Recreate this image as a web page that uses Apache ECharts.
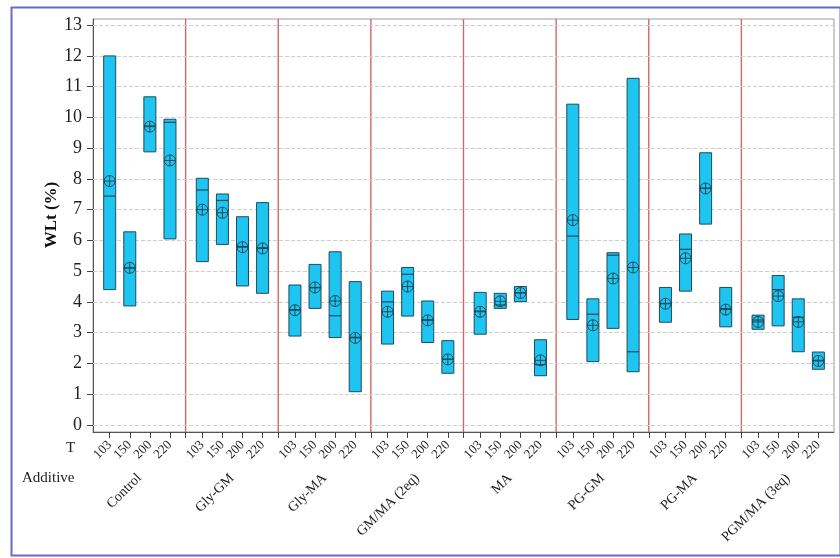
<!DOCTYPE html>
<html>
<head>
<meta charset="utf-8">
<script src="https://cdn.jsdelivr.net/npm/echarts@6/dist/echarts.min.js"></script>
<style>html,body{margin:0;padding:0;background:#fff}#c{width:840px;height:558px}</style>
</head>
<body>
<div id="c"></div>
<script>
// ---- data ----
const additives = ['Control','Gly-GM','Gly-MA','GM/MA (2eq)','MA','PG-GM','PG-MA','PGM/MA (3eq)'];
const temps = ['103','150','200','220'];
const yTicks = [0,1,2,3,4,5,6,7,8,9,10,11,12,13];
// per additive, values for T = 103,150,200,220
const lowVals = [
  [4.40, 3.87, 8.88, 6.05],
  [5.31, 5.87, 4.52, 4.28],
  [2.89, 3.79, 2.84, 1.08],
  [2.63, 3.54, 2.68, 1.68],
  [2.95, 3.79, 4.01, 1.60],
  [3.43, 2.06, 3.14, 1.73],
  [3.34, 4.35, 6.53, 3.19],
  [3.11, 3.22, 2.38, 1.81]
];
const highVals = [
  [12.0, 6.28, 10.67, 9.94],
  [8.02, 7.51, 6.77, 7.23],
  [4.55, 5.22, 5.63, 4.66],
  [4.35, 5.12, 4.03, 2.74],
  [4.31, 4.28, 4.50, 2.77],
  [10.43, 4.10, 5.60, 11.27],
  [4.47, 6.21, 8.85, 4.47],
  [3.57, 4.86, 4.10, 2.37]
];
const medianVals = [
  [7.44, 5.10, 9.72, 9.84],
  [7.64, 7.30, 5.80, 5.76],
  [3.75, 4.46, 3.55, 2.85],
  [4.00, 4.90, 3.42, 2.14],
  [3.70, 3.90, 4.30, 1.96],
  [6.14, 3.60, 5.52, 2.38],
  [3.95, 5.71, 7.70, 3.78],
  [3.41, 4.40, 3.50, 2.10]
];
const meanVals = [
  [7.93, 5.11, 9.70, 8.60],
  [7.00, 6.90, 5.78, 5.74],
  [3.73, 4.47, 4.03, 2.83],
  [3.68, 4.50, 3.40, 2.13],
  [3.68, 4.02, 4.29, 2.10],
  [6.66, 3.24, 4.76, 5.12],
  [3.94, 5.42, 7.69, 3.75],
  [3.35, 4.19, 3.35, 2.08]
];

// ---- layout helpers (positions derived from group / temperature index) ----
const OFF = 0.18, STEP = 0.217;
const YMIN = -0.23, YMAX = 13.2;
const positions = [];
const posLabel = [];
additives.forEach((a, g) => temps.forEach((t, i) => { positions.push(g + OFF + i * STEP); posLabel.push(t); }));
const boundaries = additives.slice(1).map((a, g) => g + 1);
const boxData = [];
additives.forEach((a, g) => temps.forEach((t, i) => {
  boxData.push([g + OFF + i * STEP, lowVals[g][i], highVals[g][i], medianVals[g][i], meanVals[g][i]]);
}));
const hGrid = yTicks.map(v => ({ yAxis: v }));

const serif = '"Liberation Serif", "DejaVu Serif", serif';
const dark = '#1f4a5c';

const chart = echarts.init(document.getElementById('c'), null, { renderer: 'canvas' });
chart.setOption({
  animation: false,
  backgroundColor: '#fff',
  grid: { left: 93, right: 6, top: 19, bottom: 126, show: true, borderColor: '#9a9a9a', borderWidth: 1, backgroundColor: 'transparent' },
  xAxis: [
    {
      type: 'value', min: 0, max: 8, position: 'bottom',
      axisLine: { show: true, onZero: false, lineStyle: { color: '#555', width: 1 } },
      axisTick: { show: true, customValues: positions.concat(boundaries), length: 6, lineStyle: { color: '#444' } },
      axisLabel: {
        show: true, customValues: positions, rotate: 45, margin: 11,
        fontFamily: serif, fontSize: 13, color: '#222',
        formatter: function (v) {
          let best = 0, d = 1e9;
          positions.forEach((p, k) => { if (Math.abs(p - v) < d) { d = Math.abs(p - v); best = k; } });
          return posLabel[best];
        }
      },
      splitLine: { show: false }
    },
    {
      type: 'category', data: additives, position: 'bottom', offset: 40,
      boundaryGap: true,
      axisLine: { show: false }, axisTick: { show: false },
      axisLabel: { interval: 0, rotate: 45, margin: 4, fontFamily: serif, fontSize: 14, color: '#222' },
      splitLine: { show: false }
    }
  ],
  yAxis: {
    type: 'value', min: YMIN, max: YMAX,
    axisLine: { show: true, lineStyle: { color: '#555', width: 1 } },
    axisTick: { show: true, customValues: yTicks, length: 6, lineStyle: { color: '#444' } },
    axisLabel: { customValues: yTicks, margin: 11, fontFamily: serif, fontSize: 18, color: '#222' },
    splitLine: { show: false }
  },
  graphic: [
    { type: 'rect', left: 9, top: 5, shape: { width: 829, height: 548 }, style: { fill: 'none', stroke: '#6b6bc4', lineWidth: 2 }, z: 100 },
    { type: 'text', x: 52, y: 215, rotation: Math.PI / 2, style: { text: 'WLt (%)', font: 'bold 17px ' + serif, fill: '#111', align: 'center', verticalAlign: 'middle' } },
    { type: 'text', left: 66, top: 441, style: { text: 'T', font: '15px ' + serif, fill: '#222' } },
    { type: 'text', left: 22, top: 471, style: { text: 'Additive', font: '15px ' + serif, fill: '#222' } }
  ],
  series: [
    {
      type: 'custom', name: 'grid', z: 1, silent: true, data: [],
      renderItem: function () { return null; },
      markLine: {
        silent: true, symbol: ['none', 'none'], label: { show: false }, animation: false,
        lineStyle: { color: '#cfcfcf', type: [4, 2], width: 1 },
        data: hGrid
      }
    },
    {
      type: 'custom', name: 'separators', z: 2, silent: true,
      data: boundaries.map(b => [b]),
      encode: { x: 0 },
      renderItem: function (params, api) {
        const b = api.value(0);
        const p1 = api.coord([b, YMIN]);
        const p2 = api.coord([b, YMAX]);
        return { type: 'line', shape: { x1: p1[0], y1: p1[1], x2: p1[0], y2: p2[1] }, style: { stroke: '#d06868', lineWidth: 1.4 } };
      }
    },
    {
      type: 'custom', name: 'WLt', z: 5,
      data: boxData,
      encode: { x: 0, y: [1, 2] },
      renderItem: function (params, api) {
        const x = api.value(0);
        const pLo = api.coord([x, api.value(1)]);
        const pHi = api.coord([x, api.value(2)]);
        const pMed = api.coord([x, api.value(3)]);
        const pMean = api.coord([x, api.value(4)]);
        const w = 12, r = 5.5;
        return {
          type: 'group', children: [
            { type: 'rect', shape: { x: pHi[0] - w / 2, y: pHi[1], width: w, height: pLo[1] - pHi[1] }, style: { fill: '#1ec5f0', stroke: dark, lineWidth: 1 } },
            { type: 'line', shape: { x1: pMed[0] - w / 2, y1: pMed[1], x2: pMed[0] + w / 2, y2: pMed[1] }, style: { stroke: dark, lineWidth: 1.2 } },
            { type: 'circle', shape: { cx: pMean[0], cy: pMean[1], r: r }, style: { fill: 'none', stroke: dark, lineWidth: 1 } },
            { type: 'line', shape: { x1: pMean[0] - r, y1: pMean[1], x2: pMean[0] + r, y2: pMean[1] }, style: { stroke: dark, lineWidth: 1 } },
            { type: 'line', shape: { x1: pMean[0], y1: pMean[1] - r, x2: pMean[0], y2: pMean[1] + r }, style: { stroke: dark, lineWidth: 1 } }
          ]
        };
      }
    }
  ]
});
</script>
</body>
</html>
